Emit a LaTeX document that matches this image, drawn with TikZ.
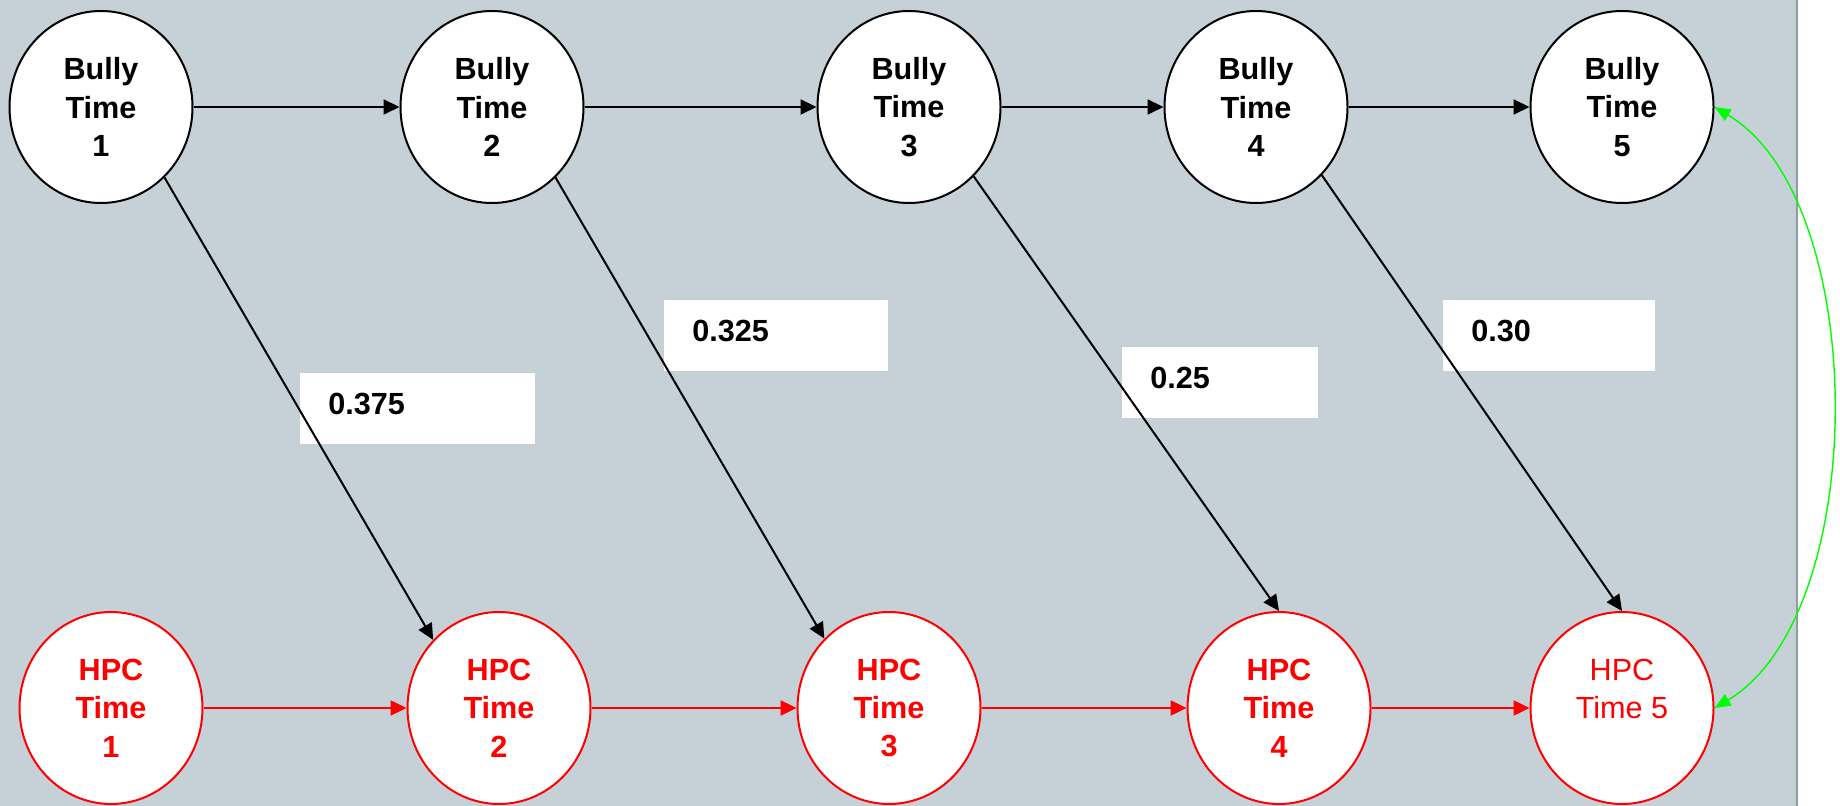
\documentclass[tikz,border=0pt]{standalone}
\usepackage{fontspec}
\setmainfont{Liberation Sans}
\usetikzlibrary{shapes.geometric,arrows.meta}
\definecolor{panelgray}{RGB}{197,208,215}
\definecolor{edgegray}{RGB}{140,158,165}
\definecolor{hpcred}{RGB}{255,0,0}
\definecolor{linkgreen}{RGB}{0,255,0}
\newcommand{\diagfont}{\fontsize{15.3pt}{19.2pt}\selectfont}
\tikzset{
  bully/.style={ellipse, draw=black, line width=1pt, fill=white,
    minimum width=91.5pt, minimum height=96pt, inner sep=0pt,
    align=center, font=\diagfont\bfseries},
  hpc/.style={bully, draw=hpcred, text=hpcred},
  weightbox/.style={fill=white, anchor=north west, inner xsep=14pt,
    inner ysep=0pt, text height=20.5pt, text depth=15pt,
    text width=#1, align=left, font=\diagfont\bfseries},
  blackarrow/.style={->, line width=1pt},
  redarrow/.style={->, draw=hpcred, line width=1.2pt},
  greenarrow/.style={<->, draw=linkgreen, line width=0.7pt,
    >={Triangle[length=8pt,width=6.5pt]}}
}
\begin{document}
\begin{tikzpicture}[x=0.5pt, y=-0.5pt, >={Triangle[length=8pt,width=7.5pt]}]
    \useasboundingbox (0,0) rectangle (1840,806);
    % 背景
    \fill[white] (0,0) rectangle (1840,806);
    \fill[panelgray] (0,0) rectangle (1797,806);
    \draw[edgegray, line width=1.2pt] (1797,0) -- (1797,806);
    % 重み
    \node[weightbox=89.5pt] (w1) at (300,373) {0.375};
    \node[weightbox=84pt] (w2) at (664,300) {0.325};
    \node[weightbox=70pt] (w3) at (1122,347) {0.25};
    \node[weightbox=78pt] (w4) at (1443,300) {0.30};
    % 上の段
    \node[bully] (b1) at (101,107) {Bully\\Time\\1};
    \node[bully] (b2) at (492,107) {Bully\\Time\\2};
    \node[bully] (b3) at (909,107) {Bully\\Time\\3};
    \node[bully] (b4) at (1256,107) {Bully\\Time\\4};
    \node[bully] (b5) at (1622,107) {Bully\\Time\\5};
    % 下の段
    \node[hpc] (h1) at (111,708) {HPC\\Time\\1};
    \node[hpc] (h2) at (499,708) {HPC\\Time\\2};
    \node[hpc] (h3) at (889,708) {HPC\\Time\\3};
    \node[hpc] (h4) at (1279,708) {HPC\\Time\\4};
    \node[hpc, font=\diagfont] (h5) at (1622,708) {HPC\\Time 5\\\mbox{}};
    % 横の矢印
    \draw[blackarrow] (b1) -- (b2);
    \draw[blackarrow] (b2) -- (b3);
    \draw[blackarrow] (b3) -- (b4);
    \draw[blackarrow] (b4) -- (b5);
    \draw[redarrow] (h1) -- (h2);
    \draw[redarrow] (h2) -- (h3);
    \draw[redarrow] (h3) -- (h4);
    \draw[redarrow] (h4) -- (h5);
    % 斜めの矢印
    \draw[blackarrow] (b1.-48) -- (h2.134);
    \draw[blackarrow] (b2.-48) -- (h3.133);
    \draw[blackarrow] (b3.-47) -- (h4.north);
    \draw[blackarrow] (b4.-46) -- (h5.north);
    % 緑の矢印
    \draw[greenarrow] (b5.east) .. controls (1871,200) and (1871,615) .. (h5.east);
  \end{tikzpicture}
\end{document}
